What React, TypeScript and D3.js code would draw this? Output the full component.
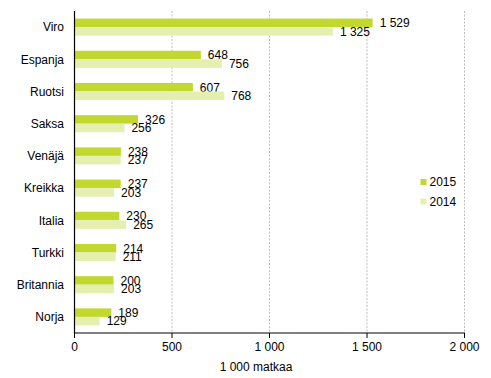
import React from "react";
import * as d3 from "d3";

const categories = ["Viro", "Espanja", "Ruotsi", "Saksa", "Venäjä", "Kreikka", "Italia", "Turkki", "Britannia", "Norja"];
const values2015 = [1529, 648, 607, 326, 238, 237, 230, 214, 200, 189];
const values2014 = [1325, 756, 768, 256, 237, 203, 265, 211, 203, 129];
const seriesNames = ["2015", "2014"];
const colors = ["#c3d82f", "#e5efb0"];
const xTicks = [0, 500, 1000, 1500, 2000];
const axisTitle = "1 000 matkaa";

const fmt = (v: number) => {
  const s = String(Math.round(v));
  return s.replace(/\B(?=(\d{3})+(?!\d))/g, " ");
};

export default function App() {
  const W = 491, H = 378;
  const left = 74.5, right = 464.5, top = 11, bottom = 333;
  const x = d3.scaleLinear().domain([0, 2000]).range([left, right]);
  const y = d3.scaleBand().domain(categories).range([top, bottom]).paddingInner(0.47).paddingOuter(0.235);
  const sub = d3.scaleBand().domain(seriesNames).range([0, y.bandwidth()]);
  const font = "Liberation Sans, Arial, sans-serif";
  const series = [values2015, values2014];
  return (
    <svg width={W} height={H} style={{ position: "absolute", left: 0, top: 0 }} fontFamily={font}>
      <rect width={W} height={H} fill="#fff" />
      {xTicks.slice(1).map((t) => (
        <line key={t} x1={x(t)} x2={x(t)} y1={top} y2={bottom} stroke="#bdbdbd" strokeDasharray="2,1.5" strokeWidth={1} />
      ))}
      {categories.map((c, i) =>
        series.map((vals, s) => {
          const y0 = (y(c) as number) + (sub(seriesNames[s]) as number);
          const h = sub.bandwidth();
          return (
            <g key={c + s}>
              <rect x={x(0)} y={y0} width={x(vals[i]) - x(0)} height={h} fill={colors[s]} />
              <text x={x(vals[i]) + 7} y={y0 + h / 2} dy="0.36em" fontSize={12} fill="#000">
                {fmt(vals[i])}
              </text>
            </g>
          );
        })
      )}
      {categories.map((c) => (
        <text key={c} x={64} y={(y(c) as number) + y.bandwidth() / 2} dy="0.36em" textAnchor="end" fontSize={12} fill="#000">
          {c}
        </text>
      ))}
      <line x1={left} x2={left} y1={top} y2={bottom} stroke="#000" strokeWidth={1.2} />
      <line x1={left} x2={right + 0.5} y1={bottom} y2={bottom} stroke="#000" strokeWidth={1.2} />
      {xTicks.map((t) => (
        <g key={t}>
          <line x1={x(t)} x2={x(t)} y1={bottom} y2={bottom + 5} stroke="#000" strokeWidth={1} />
          <text x={x(t)} y={347} dy="0.36em" textAnchor="middle" fontSize={12} fill="#000">
            {fmt(t)}
          </text>
        </g>
      ))}
      <text x={256} y={367} dy="0.36em" textAnchor="middle" fontSize={12} fill="#000">
        {axisTitle}
      </text>
      {seriesNames.map((n, i) => (
        <g key={n}>
          <rect x={420.5} y={179 + i * 19.5} width={6} height={6} fill={colors[i]} />
          <text x={429.5} y={182 + i * 19.5} dy="0.36em" fontSize={12} fill="#000">
            {n}
          </text>
        </g>
      ))}
    </svg>
  );
}
